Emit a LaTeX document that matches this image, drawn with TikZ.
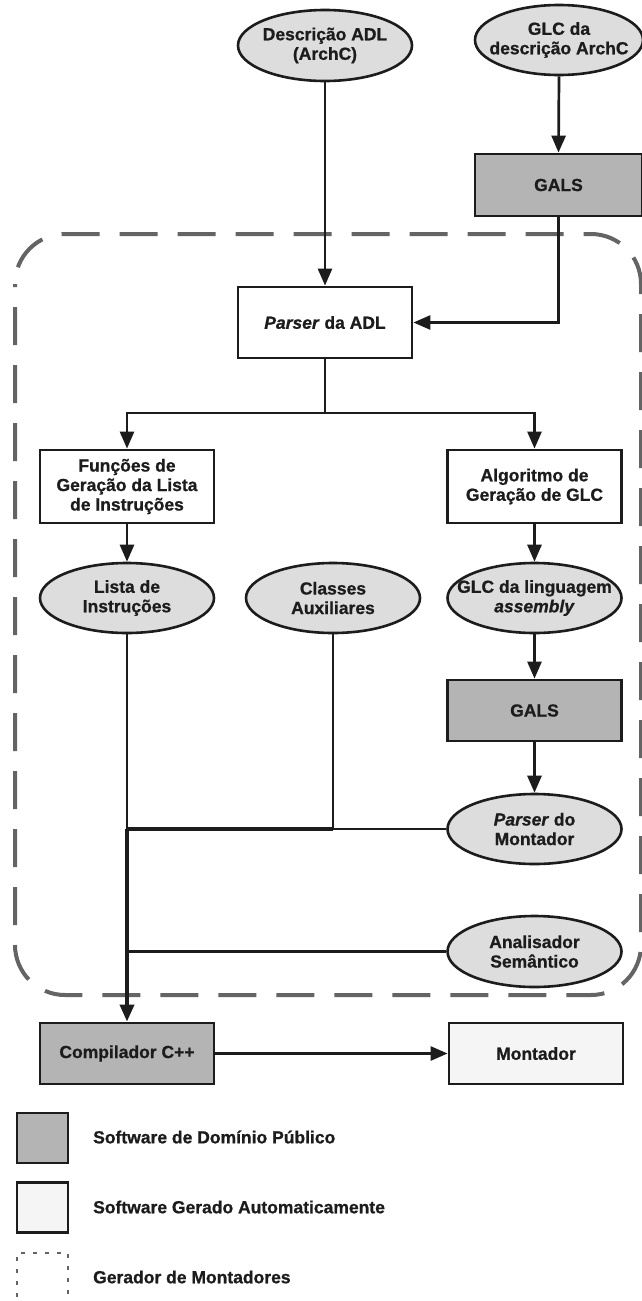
\documentclass[tikz,border=0pt]{standalone}
\usepackage{fontspec}
\setmainfont{Liberation Sans}[BoldFeatures={FakeBold=0.8},BoldItalicFeatures={FakeBold=0.8}]
\usetikzlibrary{shapes.geometric,arrows.meta}
\definecolor{ellfill}{RGB}{221,221,221}
\definecolor{darkfill}{RGB}{180,180,180}
\definecolor{lightfill}{RGB}{245,245,245}
\definecolor{dashgray}{RGB}{100,100,100}
\definecolor{ink}{RGB}{28,28,28}
\begin{document}
\begin{tikzpicture}[x=1pt,y=-1pt,
  lbl/.style={font=\fontsize{17.5}{19.5}\selectfont\bfseries, text=ink, align=center, inner sep=0pt},
  boxnode/.style={lbl, draw=ink, line width=2.8pt, minimum width=174pt, minimum height=62pt, fill=white},
  ell/.style={ellipse, draw=ink, line width=2.6pt, fill=ellfill, minimum width=174pt, minimum height=71pt, inner sep=0pt},
  legbox/.style={draw=ink, line width=2.8pt, minimum width=51pt, minimum height=50pt, inner sep=0pt},
  conn/.style={draw=ink, line width=2.7pt},
  trunk/.style={draw=ink, line width=3.6pt},
  arr/.style={-{Triangle[length=17pt,width=14pt]}},
]
\useasboundingbox (0,0) rectangle (642,1301);
\fill[white] (0,0) rectangle (642,1301);

% generator region
\draw[dashgray, line width=4pt, dash pattern=on 38pt off 20pt, dash phase=35pt, rounded corners=50pt] (15,234) rectangle (641,995);

% nodes
\node[ell] (desc) at (325,45.5) {};
\node[lbl] (desct) at (desc) {Descrição ADL\\(ArchC)};
\node[ell, minimum width=168pt, minimum height=70pt] (glc) at (559,40) {};
\node[lbl] (glct) at (glc) {GLC da\\descrição ArchC};
\node[boxnode, fill=darkfill, minimum width=167pt] (gals1) at (558.5,185) {GALS};
\node[boxnode, minimum height=71pt] (parser) at (325,322.5) {\textit{Parser} da ADL};
\node[boxnode, minimum height=73pt] (func) at (127,486.5) {Funções de\\Geração da Lista\\de Instruções};
\node[boxnode, minimum height=73pt] (alg) at (534.5,486.5) {Algoritmo de\\Geração de GLC};
\node[ell, minimum height=70pt] (lista) at (127,598) {};
\node[lbl] (listat) at (lista) {Lista de\\Instruções};
\node[ell, minimum height=70pt] (classes) at (333,598) {};
\node[lbl] (classest) at (classes) {Classes\\Auxiliares};
\node[ell, minimum height=70pt] (glcl) at (534.5,598) {};
\node[lbl] (glclt) at (glcl) {GLC da linguagem\\\textit{assembly}};
\node[boxnode, fill=darkfill, minimum height=61pt] (gals2) at (534.5,710.5) {GALS};
\node[ell, minimum height=70pt] (pmont) at (534.5,829) {};
\node[lbl] (pmontt) at (pmont) {\textit{Parser} do\\Montador};
\node[ell] (anal) at (534.5,951.5) {};
\node[lbl] (analt) at (anal) {Analisador\\Semântico};
\node[boxnode, fill=darkfill, minimum height=61pt] (comp) at (127,1053.5) {Compilador C++};
\node[boxnode, fill=lightfill, minimum height=61pt] (mont) at (536,1053.5) {Montador};

% junction points
\coordinate (split) at (325,413);
\coordinate (j1) at (127,829);
\coordinate (j2) at (127,951.5);
\coordinate (j3) at (333,829);

% connectors
\draw[conn, arr] (desc.south) -- (parser.north);
\draw[conn, arr] (glc.south) -- (gals1.north);
\draw[conn, arr] (gals1.south) |- (parser.east);
\draw[conn] (parser.south) -- (split);
\draw[conn, arr] (split) -| (func.north);
\draw[conn, arr] (split) -| (alg.north);
\draw[conn, arr] (func.south) -- (lista.north);
\draw[conn, arr] (alg.south) -- (glcl.north);
\draw[conn, arr] (glcl.south) -- (gals2.north);
\draw[conn, arr] (gals2.south) -- (pmont.north);
\draw[conn] (lista.south) -- (j1);
\draw[conn] (classes.south) -- (j3);
\draw[conn] (pmont.west) -- (j3);
\draw[trunk] (j3) -- (j1);
\draw[conn] (anal.west) -- (j2);
\draw[trunk, arr] (j1) -- (comp.north);
\draw[conn, arr] (comp.east) -- (mont.west);

% legend
\node[legbox, fill=darkfill] (leg1) at (42.5,1138) {};
\node[lbl, anchor=west] (leg1t) at (93,1137) {Software de Domínio Público};
\node[legbox, fill=lightfill] (leg2) at (42.5,1207.5) {};
\node[lbl, anchor=west] (leg2t) at (93,1207) {Software Gerado Automaticamente};
\node[draw=dashgray, line width=2pt, dash pattern=on 4pt off 8pt, minimum width=51pt, minimum height=50pt, inner sep=0pt] (leg3) at (42.5,1278) {};
\node[lbl, anchor=west] (leg3t) at (93,1277) {Gerador de Montadores};
\end{tikzpicture}
\end{document}
